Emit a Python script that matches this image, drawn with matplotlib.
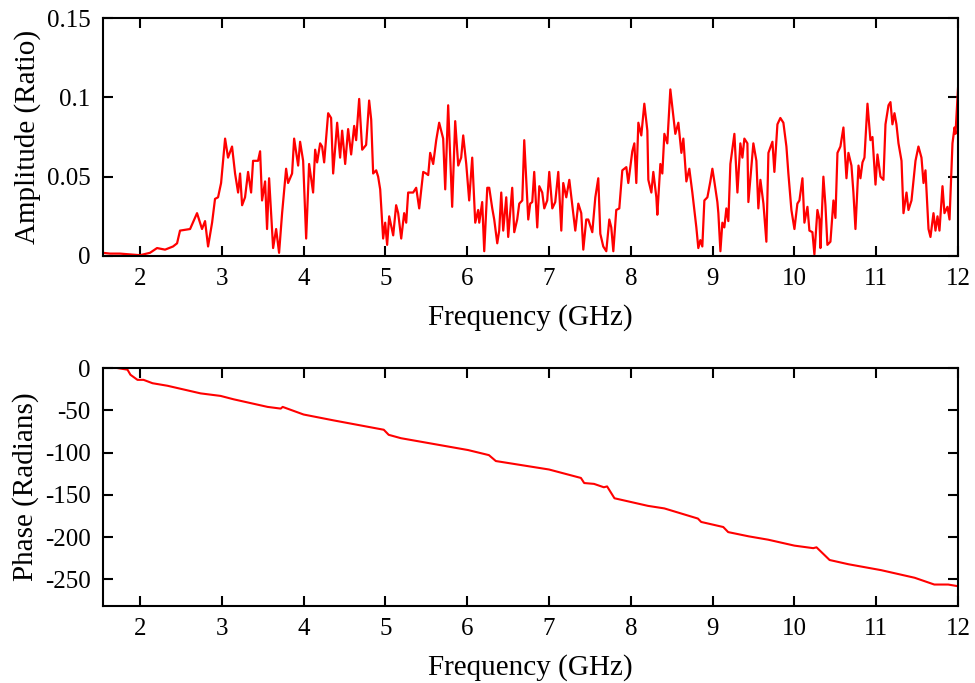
import matplotlib
matplotlib.use("Agg")
import matplotlib.pyplot as plt
from matplotlib.ticker import FuncFormatter

plt.rcParams['font.family'] = ['Liberation Serif', 'DejaVu Serif']
plt.rcParams['axes.unicode_minus'] = False

# Amplitude spectrum (GHz, ratio)
amp_freq = [1.547, 1.633, 1.755, 1.878, 2.000, 2.122, 2.208, 2.306, 2.404, 2.453,
            2.489, 2.612, 2.697, 2.758, 2.795, 2.832, 2.881, 2.917, 2.954, 2.991,
            3.040, 3.076, 3.125, 3.162, 3.199, 3.223, 3.248, 3.284, 3.321, 3.358,
            3.382, 3.443, 3.468, 3.492, 3.529, 3.553, 3.578, 3.627, 3.664, 3.700,
            3.737, 3.786, 3.810, 3.859, 3.884, 3.933, 3.957, 3.994, 4.031, 4.067,
            4.116, 4.141, 4.165, 4.202, 4.226, 4.251, 4.300, 4.336, 4.361, 4.410,
            4.446, 4.471, 4.508, 4.544, 4.581, 4.618, 4.642, 4.679, 4.716, 4.764,
            4.801, 4.826, 4.850, 4.887, 4.911, 4.936, 4.972, 4.997, 5.021, 5.046,
            5.095, 5.131, 5.156, 5.193, 5.229, 5.254, 5.278, 5.339, 5.376, 5.413,
            5.462, 5.498, 5.523, 5.547, 5.584, 5.621, 5.657, 5.706, 5.731, 5.767,
            5.816, 5.853, 5.890, 5.926, 5.951, 5.988, 6.024, 6.061, 6.098, 6.134,
            6.147, 6.183, 6.208, 6.245, 6.269, 6.306, 6.330, 6.367, 6.391, 6.416,
            6.440, 6.477, 6.501, 6.550, 6.575, 6.611, 6.636, 6.673, 6.697, 6.746,
            6.770, 6.795, 6.819, 6.856, 6.881, 6.917, 6.942, 6.978, 7.003, 7.040,
            7.076, 7.113, 7.150, 7.174, 7.211, 7.248, 7.296, 7.321, 7.358, 7.394,
            7.419, 7.455, 7.480, 7.529, 7.566, 7.602, 7.627, 7.663, 7.700, 7.737,
            7.761, 7.786, 7.822, 7.859, 7.896, 7.945, 7.969, 8.018, 8.043, 8.067,
            8.092, 8.128, 8.165, 8.202, 8.214, 8.251, 8.275, 8.312, 8.324, 8.361,
            8.385, 8.410, 8.446, 8.483, 8.520, 8.544, 8.581, 8.618, 8.642, 8.679,
            8.715, 8.752, 8.801, 8.825, 8.850, 8.874, 8.899, 8.936, 8.972, 8.997,
            9.021, 9.058, 9.070, 9.095, 9.119, 9.143, 9.168, 9.192, 9.217, 9.266,
            9.303, 9.339, 9.364, 9.388, 9.425, 9.437, 9.474, 9.498, 9.535, 9.559,
            9.584, 9.621, 9.657, 9.682, 9.731, 9.755, 9.792, 9.828, 9.865, 9.902,
            9.926, 9.963, 10.000, 10.036, 10.061, 10.098, 10.122, 10.159, 10.183, 10.220,
            10.244, 10.281, 10.306, 10.318, 10.354, 10.379, 10.403, 10.440, 10.477, 10.501,
            10.526, 10.562, 10.599, 10.636, 10.660, 10.697, 10.721, 10.746, 10.783, 10.807,
            10.832, 10.856, 10.893, 10.929, 10.954, 10.991, 11.015, 11.052, 11.088, 11.113,
            11.150, 11.174, 11.198, 11.223, 11.247, 11.272, 11.309, 11.333, 11.370, 11.394,
            11.431, 11.480, 11.516, 11.553, 11.578, 11.602, 11.639, 11.663, 11.700, 11.724,
            11.749, 11.773, 11.810, 11.834, 11.871, 11.896, 11.932, 11.957, 11.969, 12.000]
amp_vals = [0.002, 0.0015, 0.0015, 0.001, 0.0005, 0.002, 0.005, 0.004, 0.006, 0.008,
            0.016, 0.017, 0.027, 0.017, 0.022, 0.006, 0.021, 0.036, 0.037, 0.046,
            0.074, 0.062, 0.069, 0.052, 0.040, 0.052, 0.032, 0.037, 0.053, 0.040,
            0.060, 0.060, 0.066, 0.035, 0.047, 0.017, 0.049, 0.005, 0.017, 0.002,
            0.027, 0.055, 0.046, 0.052, 0.074, 0.057, 0.072, 0.060, 0.011, 0.058,
            0.040, 0.067, 0.059, 0.071, 0.069, 0.059, 0.090, 0.087, 0.052, 0.084,
            0.062, 0.079, 0.058, 0.080, 0.064, 0.082, 0.073, 0.099, 0.067, 0.070,
            0.098, 0.086, 0.052, 0.054, 0.050, 0.042, 0.011, 0.021, 0.007, 0.025,
            0.013, 0.032, 0.027, 0.011, 0.027, 0.021, 0.040, 0.040, 0.043, 0.030,
            0.053, 0.052, 0.051, 0.065, 0.058, 0.073, 0.084, 0.074, 0.042, 0.095,
            0.031, 0.085, 0.057, 0.062, 0.076, 0.058, 0.035, 0.062, 0.021, 0.029,
            0.021, 0.034, 0.003, 0.043, 0.043, 0.030, 0.023, 0.008, 0.016, 0.040,
            0.016, 0.037, 0.012, 0.043, 0.015, 0.023, 0.033, 0.035, 0.073, 0.023,
            0.033, 0.034, 0.053, 0.018, 0.044, 0.040, 0.030, 0.035, 0.053, 0.030,
            0.034, 0.053, 0.016, 0.046, 0.037, 0.048, 0.027, 0.016, 0.033, 0.027,
            0.004, 0.023, 0.023, 0.015, 0.037, 0.049, 0.014, 0.006, 0.003, 0.023,
            0.018, 0.003, 0.029, 0.030, 0.054, 0.056, 0.046, 0.066, 0.071, 0.046,
            0.084, 0.076, 0.096, 0.079, 0.048, 0.040, 0.053, 0.037, 0.026, 0.058,
            0.052, 0.077, 0.071, 0.105, 0.088, 0.077, 0.084, 0.065, 0.074, 0.047,
            0.055, 0.040, 0.018, 0.005, 0.010, 0.006, 0.035, 0.037, 0.047, 0.055,
            0.047, 0.034, 0.027, 0.003, 0.021, 0.018, 0.030, 0.022, 0.058, 0.077,
            0.040, 0.071, 0.062, 0.074, 0.071, 0.034, 0.056, 0.071, 0.060, 0.030,
            0.048, 0.033, 0.009, 0.065, 0.072, 0.053, 0.083, 0.087, 0.084, 0.069,
            0.052, 0.029, 0.017, 0.033, 0.035, 0.049, 0.021, 0.031, 0.016, 0.015,
            0.001, 0.029, 0.023, 0.005, 0.050, 0.032, 0.007, 0.009, 0.035, 0.024,
            0.065, 0.069, 0.081, 0.049, 0.065, 0.057, 0.040, 0.017, 0.057, 0.049,
            0.059, 0.062, 0.096, 0.073, 0.075, 0.045, 0.064, 0.050, 0.048, 0.083,
            0.095, 0.097, 0.083, 0.090, 0.083, 0.071, 0.060, 0.027, 0.040, 0.029,
            0.035, 0.060, 0.069, 0.062, 0.046, 0.054, 0.017, 0.012, 0.027, 0.016,
            0.025, 0.016, 0.044, 0.027, 0.031, 0.023, 0.071, 0.081, 0.077, 0.106]

# Phase (GHz, radians)
ph_freq = [1.72, 1.847, 1.883, 1.969, 2.043, 2.153, 2.336, 2.74, 2.985, 3.144,
           3.56, 3.72, 3.744, 4.0, 4.37, 4.98, 5.04, 5.19, 6.01, 6.265,
           6.35, 7.0, 7.39, 7.43, 7.55, 7.67, 7.71, 7.80, 8.21, 8.41,
           8.82, 8.86, 9.13, 9.19, 9.44, 9.68, 10.0, 10.23, 10.27, 10.43,
           10.66, 11.06, 11.47, 11.71, 11.88, 12.0]
ph_vals = [0, -2, -8, -14, -14, -18, -21, -30, -33, -37,
           -46, -48, -46, -55, -62, -73, -79, -83, -97, -103,
           -110, -120, -130, -136, -137, -141, -140, -154, -163, -166,
           -178, -182, -188, -194, -199, -203, -210, -213, -212, -227,
           -232, -239, -248, -256, -256, -258]

x_ticks = [2, 3, 4, 5, 6, 7, 8, 9, 10, 11, 12]
amp_ticks = [0, 0.05, 0.1, 0.15]
ph_ticks = [0, -50, -100, -150, -200, -250]

fig = plt.figure(figsize=(9.75, 6.83), dpi=100)
ax1 = fig.add_axes([0.1056, 0.6252, 0.8770, 0.3484])
ax2 = fig.add_axes([0.1056, 0.1132, 0.8770, 0.3480])

TFS = 18
LFS = 21
for ax in (ax1, ax2):
    ax.set_xlim(1.547, 12.0)
    ax.set_xticks(x_ticks)
    ax.tick_params(direction='in', top=True, right=True, length=7, width=1.5,
                   labelsize=TFS, pad=9)
    for s in ax.spines.values():
        s.set_linewidth(1.5)
    ax.set_xlabel('Frequency (GHz)', fontsize=LFS, labelpad=10)

ax1.plot(amp_freq, amp_vals, color='#ff0000', lw=1.6)
ax1.set_ylim(0, 0.15)
ax1.set_yticks(amp_ticks)
ax1.yaxis.set_major_formatter(FuncFormatter(lambda v, p: ('%g' % round(v, 3))))
ax1.set_ylabel('Amplitude (Ratio)', fontsize=LFS, labelpad=4)

ax2.plot(ph_freq, ph_vals, color='#ff0000', lw=1.5)
ax2.set_ylim(-281, 0)
ax2.set_yticks(ph_ticks)
ax2.yaxis.set_major_formatter(FuncFormatter(lambda v, p: '%d' % v))
ax2.set_ylabel('Phase (Radians)', fontsize=LFS, labelpad=4)

fig.savefig('out.png', dpi=100)
